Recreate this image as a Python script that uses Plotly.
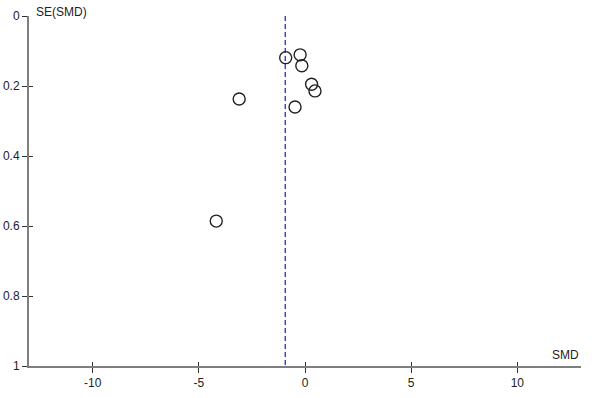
import plotly.graph_objects as go

# Data
smd = [-0.91, -0.23, -0.15, 0.31, 0.47, -0.47, -3.10, -4.18]
se_smd = [0.119, 0.111, 0.142, 0.195, 0.214, 0.260, 0.237, 0.586]
pooled_smd = -0.93
x_ticks = [-10, -5, 0, 5, 10]
x_tick_labels = ["-10", "-5", "0", "5", "10"]
y_ticks = [0, 0.2, 0.4, 0.6, 0.8, 1]
y_tick_labels = ["0", "0.2", "0.4", "0.6", "0.8", "1"]

axis_col = "#7f7f7f"
font = dict(family="Liberation Sans, Arial, sans-serif", size=12, color="#222222")

fig = go.Figure()

# pooled estimate dashed line
fig.add_trace(go.Scatter(
    x=[pooled_smd, pooled_smd], y=[0, 1], mode="lines",
    line=dict(color="#3b3bc4", width=1.4, dash="5px,3px"),
    hoverinfo="skip", showlegend=False))

# studies
fig.add_trace(go.Scatter(
    x=smd, y=se_smd, mode="markers",
    marker=dict(symbol="circle-open", size=12, color="#222222",
                line=dict(width=1.4, color="#222222")),
    showlegend=False))

# invisible trace for overlay axes (inner half of crossing ticks)
fig.add_trace(go.Scatter(x=[pooled_smd], y=[0.5], xaxis="x2", yaxis="y2",
                         mode="markers", marker=dict(opacity=0),
                         hoverinfo="skip", showlegend=False))

fig.update_layout(
    width=592, height=398,
    margin=dict(l=29, r=11, t=16, b=32),
    paper_bgcolor="white", plot_bgcolor="white",
    font=font,
    xaxis=dict(range=[-13, 13], tickvals=x_ticks, ticktext=x_tick_labels,
               ticks="outside", ticklen=5, automargin=False,
               tickwidth=1.3, tickcolor="#333333", showline=True, linecolor=axis_col,
               linewidth=2, showgrid=False, zeroline=False, anchor="y",
               tickfont=font),
    yaxis=dict(range=[1, 0], tickvals=y_ticks, ticktext=y_tick_labels,
               ticks="outside", ticklen=5, tickwidth=1.3, tickcolor="#333333",
               automargin=False,
               showline=True, linecolor=axis_col, linewidth=2, showgrid=False,
               zeroline=False, anchor="x", tickfont=font),
    xaxis2=dict(range=[-13, 13], tickvals=x_ticks, ticks="inside", ticklen=4,
                tickwidth=1.3, tickcolor="#333333", showticklabels=False,
                showline=False, showgrid=False, zeroline=False, automargin=False,
                overlaying="x", anchor="y2", side="bottom"),
    yaxis2=dict(range=[1, 0], tickvals=y_ticks, ticks="inside", ticklen=4,
                tickwidth=1.3, tickcolor="#333333", showticklabels=False,
                showline=False, showgrid=False, zeroline=False, automargin=False,
                overlaying="y", anchor="x2", side="left"),
    annotations=[
        dict(text="SE(SMD)", x=0, y=1, xref="paper", yref="paper",
             xanchor="left", yanchor="bottom", xshift=5, yshift=-5,
             showarrow=False, font=font),
        dict(text="SMD", x=1, y=0, xref="paper", yref="paper",
             xanchor="right", yanchor="bottom", xshift=0, yshift=2,
             showarrow=False, font=font),
    ],
)

fig.write_html("out.html")
